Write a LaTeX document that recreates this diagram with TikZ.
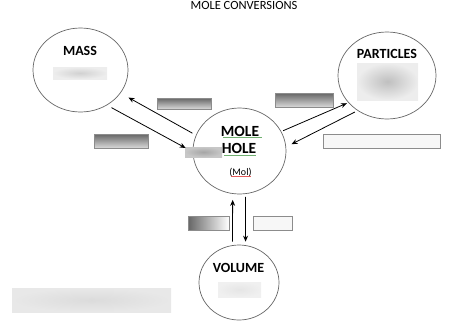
\documentclass[tikz,border=0pt]{standalone}
\usepackage{fontspec}
\setmainfont{Carlito}
\usetikzlibrary{shapes.geometric,arrows.meta}

\definecolor{proofgreen}{RGB}{112,176,112}
\definecolor{proofred}{RGB}{226,90,90}

\tikzset{
  >={Stealth[length=6pt,width=5pt]},   % arrow tips
  bubble/.style={draw=black!60, ellipse, inner sep=0pt, line width=0.7pt},
  heading/.style={font=\bfseries\fontsize{14}{16}\selectfont, inner sep=0pt},
  shadebox/.style={draw=black!45, line width=0.6pt, top color=black!60, bottom color=black!15, inner sep=0pt},
  blankbox/.style={draw=black!45, fill=black!3, line width=0.6pt, inner sep=0pt},
  smudge/.style={inner sep=0pt, inner color=black!18, outer color=black!7},
  link/.style={->, line width=0.8pt}
}

\begin{document}
\begin{tikzpicture}[x=1pt,y=-1pt]
	\useasboundingbox (0,0) rectangle (474,330);
	% title
	\node[font=\fontsize{12.5}{14}\selectfont, inner sep=0pt] (title) at (244,5.5) {MOLE CONVERSIONS};

	% circles
	\node[bubble, minimum width=95pt, minimum height=84pt] (mass) at (80.5,70) {};
	\node[bubble, minimum width=98pt, minimum height=87pt] (particles) at (387,75.5) {};
	\node[bubble, minimum width=93pt, minimum height=86pt] (mole) at (239.5,151) {};
	\node[bubble, minimum width=80pt, minimum height=75pt] (volume) at (239,282.5) {};

	% labels
	\node[heading] (masstxt) at (80,51) {MASS};
	\node[heading] (parttxt) at (387,54) {PARTICLES};
	\node[heading, font=\bfseries\fontsize{15.5}{17}\selectfont] (moletxt) at (240,131.5) {MOLE};
	\node[heading, font=\bfseries\fontsize{15.5}{17}\selectfont] (holetxt) at (239,148.5) {HOLE};
	\node[font=\fontsize{10}{12}\selectfont, inner sep=0pt] (moltxt) at (240.5,172.5) {(Mol)};
	\node[heading] (voltxt) at (238.5,267.5) {VOLUME};
	% proofing marks
	\draw[proofgreen, line width=0.6pt] (223,137.3) -- (262,137.3);
	\draw[proofgreen, line width=0.6pt] (224,155) -- (256,155);
	\draw[proofred, line width=0.5pt] (231,176.5) -- (251,176.5);

	% hidden answers
	\node[smudge, minimum width=54pt, minimum height=12pt] (massans) at (80,73) {};
	\node[smudge, minimum width=61pt, minimum height=37pt, inner color=black!25] (partans) at (387.5,81.5) {};
	\node[smudge, minimum width=37pt, minimum height=10pt, inner color=black!35, outer color=black!22] (moleans) at (203.5,152) {};
	\node[smudge, minimum width=43pt, minimum height=15pt, inner color=black!10, outer color=black!6] (volans) at (239.5,289.5) {};
	\node[smudge, minimum width=159pt, minimum height=24pt, inner color=black!14, outer color=black!9] (noteans) at (91.5,300) {};

	% factor boxes
	\node[shadebox, minimum width=54pt, minimum height=11pt] (tomass) at (184,103.5) {};
	\node[shadebox, minimum width=58pt, minimum height=14pt] (topart) at (304,100) {};
	\node[shadebox, minimum width=54pt, minimum height=14pt] (frommass) at (121,141) {};
	\node[blankbox, minimum width=117pt, minimum height=14pt] (frompart) at (381.5,141) {};
	\node[shadebox, minimum width=41pt, minimum height=14pt, left color=black!60, right color=white] (fromvol) at (208.5,223) {};
	\node[blankbox, minimum width=39pt, minimum height=14pt] (tovol) at (272.5,223) {};

	% arrows
	\draw[link, shorten <=4pt, shorten >=9pt] (mole.160) -- (mass.-30);
	\draw[link, shorten <=5pt, shorten >=8pt] (mass.-53) -- (mole.181);
	\draw[link, shorten <=2pt, shorten >=1.5pt] (mole.25) -- (particles.215);
	\draw[link, shorten <=3pt, shorten >=6pt] (particles.230) -- (mole.5);
	\draw[link, shorten <=3.5pt, shorten >=6pt] (volume.100) -- (mole.-99);
	\draw[link, shorten <=3pt, shorten >=3.5pt] (mole.-82) -- (volume.80);

\end{tikzpicture}
\end{document}
